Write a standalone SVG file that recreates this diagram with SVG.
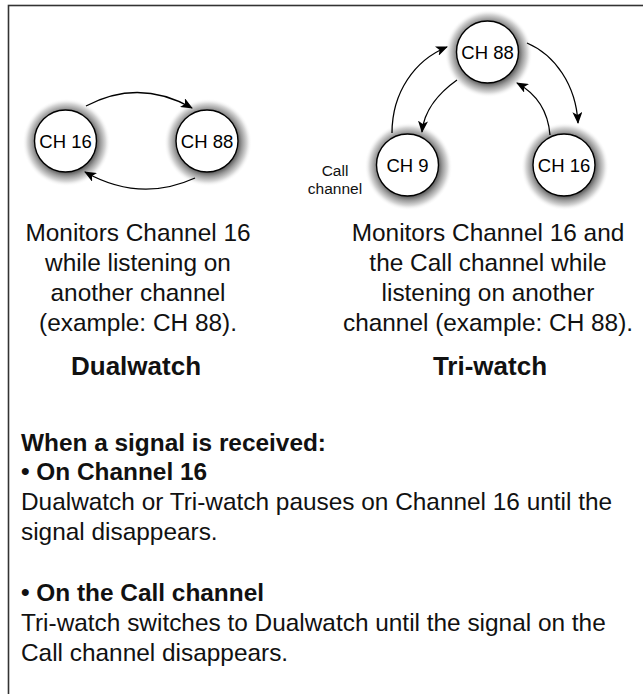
<svg xmlns="http://www.w3.org/2000/svg" width="643" height="694" viewBox="0 0 643 694">
<defs>
<style>
.node circle.c{fill:#fff;stroke:#000;stroke-width:1.4}
.node circle.g{fill:url(#glowg)}
.nl{font-family:"Liberation Sans",Arial,sans-serif;font-size:18.5px;fill:#000;text-anchor:middle}
.t{font-family:"Liberation Sans",Arial,sans-serif;font-size:24.4px;fill:#111}
.b{font-weight:bold}
.mid{text-anchor:middle}
.conn path{fill:none;stroke:#000;stroke-width:1.3;marker-end:url(#ah)}
</style>
<radialGradient id="glowg" cx="0.5" cy="0.5" r="0.5">
<stop offset="0.68" stop-color="#5e5e5e"/>
<stop offset="0.77" stop-color="#9a9a9a"/>
<stop offset="0.89" stop-color="#dadada"/>
<stop offset="1" stop-color="#ffffff" stop-opacity="0"/>
</radialGradient>
<marker id="ah" viewBox="0 0 12 10" refX="11" refY="5" markerWidth="12" markerHeight="10" markerUnits="userSpaceOnUse" orient="auto">
<path d="M0,0 L12,5 L0,10 L3,5 Z" fill="#000"/>
</marker>
</defs>
<rect x="8.5" y="5.5" width="700" height="800" fill="#fff" stroke="#333" stroke-width="1.6"/>

<g id="dual-ch16" class="node"><circle class="g" cx="66.5" cy="142.5" r="44"/><circle class="c" cx="65.5" cy="141" r="31"/><text class="nl" x="65.5" y="147.5">CH 16</text></g>
<g id="dual-ch88" class="node"><circle class="g" cx="208" cy="142.5" r="44"/><circle class="c" cx="207" cy="141" r="31"/><text class="nl" x="207" y="147.5">CH 88</text></g>
<g id="tri-ch88" class="node"><circle class="g" cx="488.5" cy="53.5" r="44"/><circle class="c" cx="487.5" cy="52" r="31"/><text class="nl" x="487.5" y="58.5">CH 88</text></g>
<g id="tri-ch9" class="node"><circle class="g" cx="408.5" cy="166.5" r="44"/><circle class="c" cx="407.5" cy="165" r="31"/><text class="nl" x="407.5" y="171.5">CH 9</text></g>
<g id="tri-ch16" class="node"><circle class="g" cx="565" cy="166.5" r="44"/><circle class="c" cx="564" cy="165" r="31"/><text class="nl" x="564" y="171.5">CH 16</text></g>

<g id="connectors" class="conn">
<path d="M86,106 Q139,78 192,108"/>
<path d="M195,178 Q140,203 85,172"/>
<path d="M392,133 C392,92 415,60 447,47"/>
<path d="M457,80 C440,92 424,110 422,132"/>
<path d="M550,135 C548,110 535,93 517,83"/>
<path d="M527,43 C555,55 576,85 578,123"/>
</g>

<g id="call-label"><text class="t mid" style="font-size:15.5px" x="335" y="176">Call</text><text class="t mid" style="font-size:15.5px" x="335" y="194">channel</text></g>

<g id="dual-desc">
<text class="t mid" x="138" y="241">Monitors Channel 16</text>
<text class="t mid" x="138" y="271">while listening on</text>
<text class="t mid" x="138" y="301">another channel</text>
<text class="t mid" x="138" y="331">(example: CH 88).</text>
<text class="t b mid" style="font-size:26px" x="136" y="375">Dualwatch</text>
</g>
<g id="tri-desc">
<text class="t mid" x="488" y="241">Monitors Channel 16 and</text>
<text class="t mid" x="488" y="271">the Call channel while</text>
<text class="t mid" x="488" y="301">listening on another</text>
<text class="t mid" x="488" y="331">channel (example: CH 88).</text>
<text class="t b mid" style="font-size:26px" x="490" y="375">Tri-watch</text>
</g>
<g id="notes">
<text class="t b" x="21" y="451">When a signal is received:</text>
<text class="t b" x="21" y="480">• On Channel 16</text>
<text class="t" x="21" y="510">Dualwatch or Tri-watch pauses on Channel 16 until the</text>
<text class="t" x="21" y="540">signal disappears.</text>
<text class="t b" x="21" y="601">• On the Call channel</text>
<text class="t" x="21" y="631">Tri-watch switches to Dualwatch until the signal on the</text>
<text class="t" x="21" y="661">Call channel disappears.</text>
</g>
</svg>
